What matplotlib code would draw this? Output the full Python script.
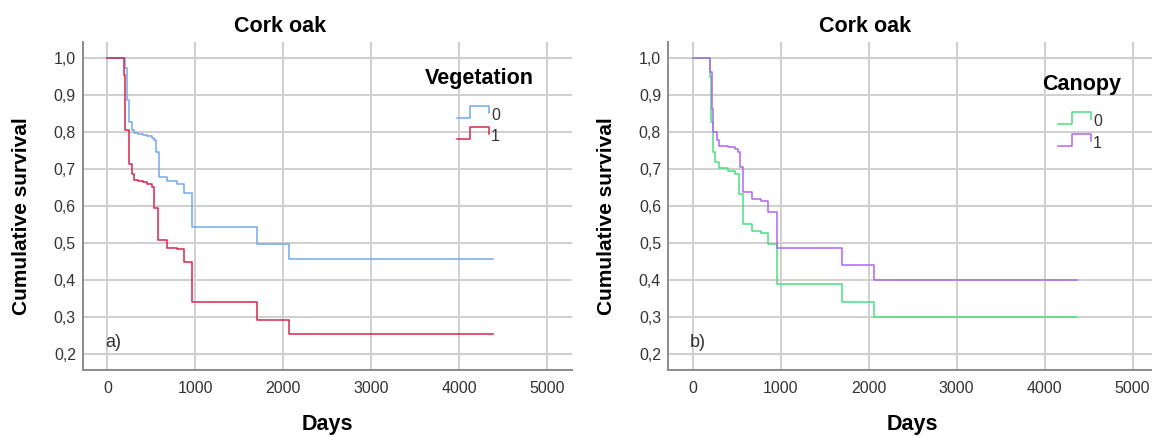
import numpy as np
import matplotlib
matplotlib.use("Agg")
import matplotlib.pyplot as plt
from matplotlib.ticker import FuncFormatter

plt.rcParams["font.family"] = ["Liberation Sans", "DejaVu Sans"]

# ── data ──────────────────────────────────────────────────────────────
veg0_days = [0, 199, 218, 248, 275, 301, 350, 400, 450, 502, 528, 555, 581, 680, 786, 869, 960, 1703, 2066, 4377]
veg0_surv = [1.0, 0.974, 0.887, 0.828, 0.805, 0.798, 0.795, 0.792, 0.789, 0.785, 0.778, 0.746, 0.680, 0.667, 0.660, 0.635, 0.544, 0.499, 0.458, 0.458]

veg1_days = [0, 191, 205, 248, 275, 301, 350, 400, 450, 502, 528, 578, 680, 786, 869, 960, 1703, 2066, 4377]
veg1_surv = [1.0, 0.955, 0.805, 0.715, 0.687, 0.671, 0.668, 0.664, 0.659, 0.651, 0.594, 0.508, 0.488, 0.483, 0.449, 0.341, 0.293, 0.253, 0.253]

can0_days = [0, 200, 215, 238, 260, 306, 400, 484, 533, 572, 674, 780, 863, 958, 1700, 2063, 4370]
can0_surv = [1.0, 0.95, 0.828, 0.746, 0.719, 0.704, 0.695, 0.687, 0.633, 0.553, 0.533, 0.527, 0.499, 0.389, 0.340, 0.299, 0.299]

can1_days = [0, 200, 220, 238, 277, 306, 400, 484, 515, 541, 572, 674, 780, 863, 958, 1700, 2063, 4370]
can1_surv = [1.0, 0.964, 0.864, 0.800, 0.778, 0.764, 0.760, 0.755, 0.746, 0.705, 0.638, 0.620, 0.615, 0.585, 0.488, 0.440, 0.400, 0.400]

x_ticks = [0, 1000, 2000, 3000, 4000, 5000]
y_ticks = [0.2, 0.3, 0.4, 0.5, 0.6, 0.7, 0.8, 0.9, 1.0]

BLUE, RED = "#72A9E8", "#D9254F"
GREEN, PURPLE = "#4ADF80", "#B065F0"


def draw_legend(ax, title, labels, colors, tx, ty, ys, x0, x1):
    ax.text(tx, ty, title, transform=ax.transAxes, ha="center", va="center",
            fontsize=15.5, fontweight="bold", color="black")
    for lab, col, y in zip(labels, colors, ys):
        w = x1 - x0
        h = 0.018
        xs = [x0, x0 + 0.42 * w, x0 + 0.42 * w, x1, x1]
        yy = [y - h, y - h, y + h, y + h, y - 0.2 * h]
        ax.plot(xs, yy, transform=ax.transAxes, color=col, lw=1.1, clip_on=False)
        ax.text(x1 + 0.004, y - 0.01, lab, transform=ax.transAxes, ha="left",
                va="center", fontsize=11.5, color="#333333")


def setup(ax, letter):
    ax.set_xlim(-278, 5275)
    ax.set_ylim(0.157, 1.044)
    ax.set_xticks(x_ticks)
    ax.set_yticks(y_ticks)
    ax.yaxis.set_major_formatter(FuncFormatter(lambda v, p: f"{v:.1f}".replace(".", ",")))
    ax.grid(True, color="#cfcfcf", lw=1.4)
    ax.set_axisbelow(True)
    ax.tick_params(length=0, labelsize=11.5, labelcolor="#333333")
    ax.tick_params(axis="x", pad=8)
    ax.tick_params(axis="y", pad=5)
    for s in ["top", "right"]:
        ax.spines[s].set_visible(False)
    for s in ["left", "bottom"]:
        ax.spines[s].set_color("#8c8c8c")
        ax.spines[s].set_linewidth(1.4)
    ax.set_xlabel("Days", fontsize=15.5, fontweight="bold", labelpad=13)
    ax.set_ylabel("Cumulative survival", fontsize=15, fontweight="bold")
    ax.yaxis.set_label_coords(-0.106, 0.47)
    ax.text(0.404, 1.046, "Cork oak", transform=ax.transAxes, ha="center",
            va="center", fontsize=15.5, fontweight="bold")
    ax.text(0.045, 0.085, letter, transform=ax.transAxes, ha="left",
            va="center", fontsize=13, color="#333333")


fig = plt.figure(figsize=(11.52, 4.38), dpi=100)
ax1 = fig.add_axes([0.0720, 0.1553, 0.4242, 0.7489])
ax2 = fig.add_axes([0.5799, 0.1553, 0.4242, 0.7489])

# a) vegetation
ax1.step(veg0_days, veg0_surv, where="post", color=BLUE, lw=1.1)
ax1.step(veg1_days, veg1_surv, where="post", color=RED, lw=1.1)
setup(ax1, "a)")
draw_legend(ax1, "Vegetation", ["0", "1"], [BLUE, RED],
            0.812, 0.890, [0.787, 0.723], 0.765, 0.831)

# b) canopy
ax2.step(can0_days, can0_surv, where="post", color=GREEN, lw=1.1)
ax2.step(can1_days, can1_surv, where="post", color=PURPLE, lw=1.1)
setup(ax2, "b)")
draw_legend(ax2, "Canopy", ["0", "1"], [GREEN, PURPLE],
            0.847, 0.869, [0.768, 0.701], 0.798, 0.866)

fig.savefig("out.png", dpi=100)
